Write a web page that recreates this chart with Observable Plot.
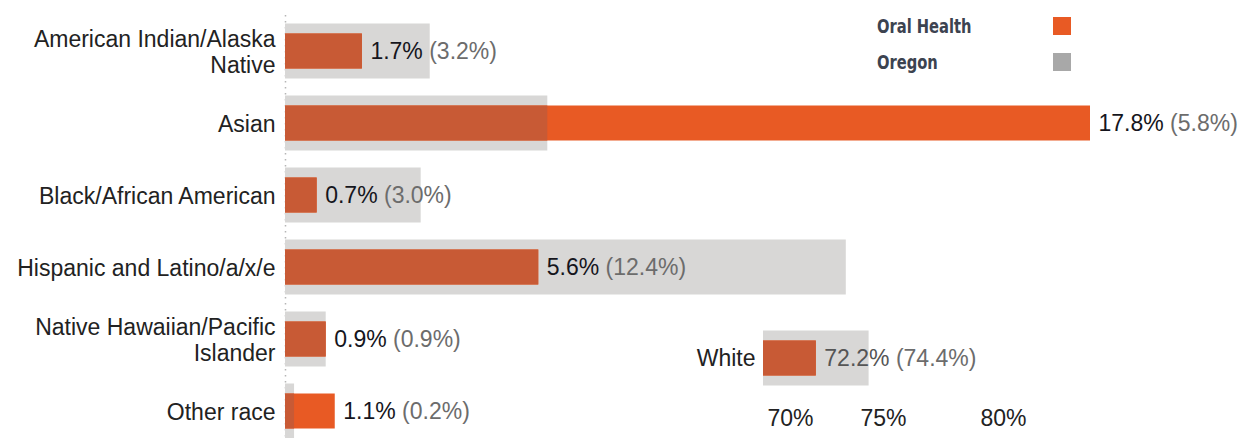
<!DOCTYPE html>
<html>
<head>
<meta charset="utf-8">
<script src="https://cdn.jsdelivr.net/npm/d3@7"></script>
<script src="https://cdn.jsdelivr.net/npm/@observablehq/plot@0.6"></script>
<style>
  body { margin: 0; background: #fff; }
  #wrap { position: relative; width: 1238px; height: 438px; overflow: hidden; font-family: "Liberation Sans", Arial, sans-serif; }
  #wrap svg { position: absolute; left: 0; top: 0; }
  .legend-row { position: absolute; left: 877px; width: 195px; height: 22px; line-height: 22px; }
  .legend-row span.lab { display: inline-block; font-family: "Liberation Sans Narrow", "DejaVu Sans Condensed", "Roboto", sans-serif; font-weight: bold; font-size: 19px; color: #3c4350; transform: scaleX(0.86); transform-origin: 0 50%; }
  .legend-row span.sw { position: absolute; left: 176px; top: 2px; width: 18px; height: 18px; }
</style>
</head>
<body>
<div id="wrap"></div>
<script>
// ---- data ----
const categories = [
  "American Indian/Alaska Native",
  "Asian",
  "Black/African American",
  "Hispanic and Latino/a/x/e",
  "Native Hawaiian/Pacific Islander",
  "Other race"
];
const categoryLabels = [
  "American Indian/Alaska\nNative",
  "Asian",
  "Black/African American",
  "Hispanic and Latino/a/x/e",
  "Native Hawaiian/Pacific\nIslander",
  "Other race"
];
const oralHealth = [1.7, 17.8, 0.7, 5.6, 0.9, 1.1];
const oregon = [3.2, 5.8, 3.0, 12.4, 0.9, 0.2];

const insetCategory = ["White"];
const insetOralHealth = [72.2];
const insetOregon = [74.4];
const insetTicks = [70, 75, 80];

const legendLabels = ["Oral Health", "Oregon"];

// ---- styling ----
const C = {
  oral: "#E85A24",
  overlap: "#C85A35",
  oregon: "#D8D7D6",
  oregonKey: "#A8A8A8",
  dark: "#15151c",
  muted: "#6c6c6c"
};
const FONT = '"Liberation Sans", Arial, sans-serif';
const FS = 23;
const fmt = v => v.toFixed(1) + "%";

const rows = categories.map((c, i) => ({category: c, label: categoryLabels[i], oral: oralHealth[i], oregon: oregon[i]}));
const insetRows = insetCategory.map((c, i) => ({category: c, oral: insetOralHealth[i], oregon: insetOregon[i]}));

const labelOf = new Map(rows.map(r => [r.category, r.label]));

function splitLabels(svg, firstColor, restColor) {
  d3.select(svg).selectAll("text")
    .filter(function () { return /%\s\(/.test(this.textContent); })
    .each(function () {
      const t = this.textContent;
      const i = t.indexOf(" ");
      const sel = d3.select(this);
      sel.text(null);
      sel.append("tspan").attr("fill", firstColor).text(t.slice(0, i));
      sel.append("tspan").attr("fill", restColor).style("white-space", "pre").text(t.slice(i));
    });
}

const main = Plot.plot({
  width: 1238,
  height: 438,
  marginLeft: 285,
  marginRight: 148,
  marginTop: 15,
  marginBottom: 0,
  style: {fontFamily: FONT, fontSize: FS + "px", color: "#222", background: "transparent"},
  x: {domain: [0, 17.8], axis: null},
  y: {domain: categories, range: [15, 447], padding: 0, axis: null},
  marks: [
    Plot.ruleX([0], {stroke: "#b5b5b5", strokeDasharray: "1.5,4.5", strokeWidth: 1.5}),
    Plot.barX(rows, {y: "category", x: "oregon", fill: C.oregon, insetTop: 8.5, insetBottom: 8.5}),
    Plot.barX(rows, {y: "category", x: "oral", fill: C.oral, insetTop: 18.5, insetBottom: 18.5}),
    Plot.barX(rows, {y: "category", x: d => Math.min(d.oral, d.oregon), fill: C.overlap, insetTop: 18.5, insetBottom: 18.5}),
    Plot.text(rows, {
      y: "category", x: "oral",
      text: d => fmt(d.oral) + " (" + fmt(d.oregon) + ")",
      textAnchor: "start", dx: 8, fontSize: FS
    }),
    Plot.axisY({
      tickSize: 0, tickPadding: 10, fontSize: FS, lineHeight: 1.14,
      tickFormat: c => labelOf.get(c), label: null, fill: "#222"
    })
  ]
});
splitLabels(main, C.dark, C.muted);

const inset = Plot.plot({
  width: 1238,
  height: 438,
  marginLeft: 763,
  marginRight: 235,
  marginTop: 322,
  marginBottom: 38,
  style: {fontFamily: FONT, fontSize: FS + "px", color: "#222", background: "transparent"},
  x: {domain: [insetTicks[0], insetTicks[insetTicks.length - 1]], axis: null},
  y: {domain: insetCategory, range: [322, 394], padding: 0, axis: null},
  marks: [
    Plot.barX(insetRows, {y: "category", x1: () => insetTicks[0], x2: "oregon", fill: C.oregon, insetTop: 8.5, insetBottom: 8.5}),
    Plot.barX(insetRows, {y: "category", x1: () => insetTicks[0], x2: "oral", fill: C.oral, insetTop: 18.5, insetBottom: 18.5}),
    Plot.barX(insetRows, {y: "category", x1: () => insetTicks[0], x2: d => Math.min(d.oral, d.oregon), fill: C.overlap, insetTop: 18.5, insetBottom: 18.5}),
    Plot.text(insetRows, {
      y: "category", x: "oral",
      text: d => fmt(d.oral) + " (" + fmt(d.oregon) + ")",
      textAnchor: "start", dx: 8, fontSize: FS
    }),
    Plot.axisY({tickSize: 0, tickPadding: 8, fontSize: FS, label: null, fill: "#222"}),
    Plot.axisX(insetTicks.slice(0, 1), {anchor: "bottom", tickSize: 0, tickPadding: 9, textAnchor: "start", dx: 4, fontSize: FS, tickFormat: d => d + "%", label: null, fill: "#222"}),
    Plot.axisX(insetTicks.slice(1), {anchor: "bottom", tickSize: 0, tickPadding: 9, fontSize: FS, tickFormat: d => d + "%", label: null, fill: "#222"})
  ]
});
splitLabels(inset, "#555", C.muted);

const wrap = document.getElementById("wrap");
wrap.appendChild(main);
wrap.appendChild(inset);

const legendColors = [C.oral, C.oregonKey];
const legendTops = [15, 51];
legendLabels.forEach((lab, i) => {
  const row = document.createElement("div");
  row.className = "legend-row";
  row.style.top = legendTops[i] + "px";
  const t = document.createElement("span");
  t.className = "lab";
  t.textContent = lab;
  row.appendChild(t);
  const sw = document.createElement("span");
  sw.className = "sw";
  sw.style.background = legendColors[i];
  row.appendChild(sw);
  wrap.appendChild(row);
});
</script>
</body>
</html>
